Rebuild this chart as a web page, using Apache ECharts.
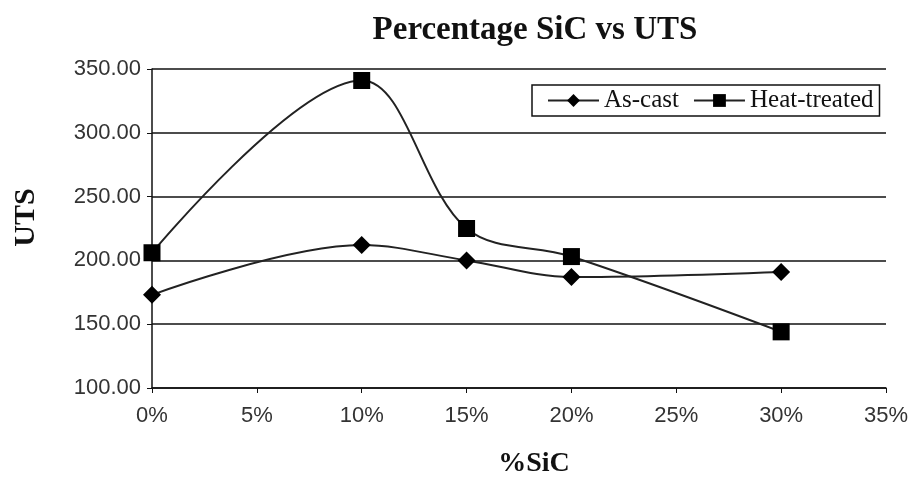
<!DOCTYPE html>
<html><head><meta charset="utf-8">
<script src="https://cdn.jsdelivr.net/npm/echarts@6/dist/echarts.min.js"></script>
<style>html,body{margin:0;padding:0;background:#fff}#c{width:920px;height:478px}</style>
</head><body><div id="c"></div>
<script>
const sicPercent = [0, 10, 15, 20, 30];
const asCast = [173, 212, 200, 187, 191];
const heatTreated = [206, 341, 225, 203, 144];
const seriesNames = ['As-cast', 'Heat-treated'];

const chart = echarts.init(document.getElementById('c'));
const serif = 'Liberation Serif';
const sans = 'Liberation Sans';
chart.setOption({
  animation: false,
  backgroundColor: '#fff',
  title: {
    text: 'Percentage SiC vs UTS', left: 530, top: 9, textAlign: 'center',
    textStyle: { fontFamily: serif, fontWeight: 'bold', fontSize: 33, color: '#111' }
  },
  legend: {
    left: 532, top: 85, orient: 'horizontal',
    borderColor: '#111', borderWidth: 1.5, padding: [3, 6, 3, 15],
    itemGap: 14, itemWidth: 51, itemHeight: 16,
    textStyle: { fontFamily: serif, fontSize: 25, color: '#111' },
    data: seriesNames
  },
  grid: { left: 152, right: 34, top: 69, bottom: 90, containLabel: false, outerBoundsMode: 'none' },
  xAxis: {
    type: 'value', min: 0, max: 35, interval: 5,
    name: '%SiC', nameLocation: 'middle', nameGap: 62,
    nameTextStyle: { fontFamily: serif, fontWeight: 'bold', fontSize: 28, color: '#111', padding: [0, 0, 0, 30] },
    axisLine: { lineStyle: { color: '#111', width: 1.5 } },
    axisTick: { show: true, length: 5, lineStyle: { color: '#111' } },
    axisLabel: { formatter: v => v + '%', fontFamily: sans, fontSize: 22, color: '#333', margin: 17 },
    splitLine: { show: false }
  },
  yAxis: {
    type: 'value', min: 100, max: 350, interval: 50,
    name: 'UTS', nameLocation: 'middle', nameGap: 111, nameRotate: 90,
    nameTextStyle: { fontFamily: serif, fontWeight: 'bold', fontSize: 30, color: '#111', padding: [0, 0, 0, 22] },
    axisLine: { show: true, lineStyle: { color: '#111', width: 1.5 } },
    axisTick: { show: true, length: 5, lineStyle: { color: '#111' } },
    axisLabel: { formatter: v => v.toFixed(2), fontFamily: sans, fontSize: 22, color: '#333', margin: 11 },
    splitLine: { show: true, lineStyle: { color: '#111', width: 1.5 } }
  },
  series: [
    {
      name: seriesNames[0], type: 'line', smooth: 0.35,
      data: sicPercent.map((x, i) => [x, asCast[i]]),
      symbol: 'diamond', symbolSize: 18,
      lineStyle: { color: '#222', width: 2 },
      itemStyle: { color: '#000' }
    },
    {
      name: seriesNames[1], type: 'line', smooth: 0.35,
      data: sicPercent.map((x, i) => [x, heatTreated[i]]),
      symbol: 'rect', symbolSize: 17,
      lineStyle: { color: '#222', width: 2 },
      itemStyle: { color: '#000' }
    }
  ]
});
</script></body></html>
